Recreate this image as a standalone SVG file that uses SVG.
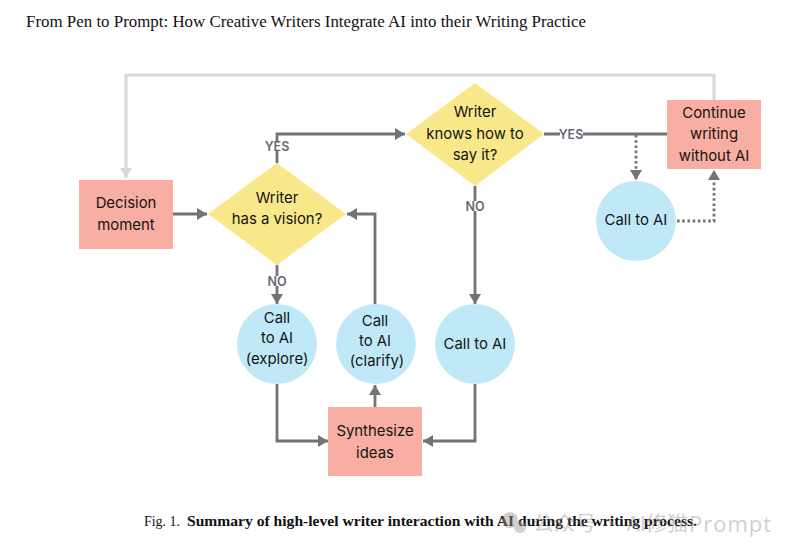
<svg xmlns="http://www.w3.org/2000/svg" width="796" height="555" viewBox="0 0 796 555">
<style>
.t{font-family:"Inter","Liberation Sans",sans-serif;font-size:14.9px;fill:#141414;text-anchor:middle}
.l{font-family:"Inter","Liberation Sans",sans-serif;font-size:12.5px;font-weight:600;fill:#666a75;text-anchor:middle}
.r{fill:#f9aea3}.d{fill:#f9e88a}.c{fill:#c0e9f8}
.e{fill:none;stroke:#737373;stroke-width:2.8}
.g{fill:none;stroke:#d9d9d9;stroke-width:3}
.o{fill:none;stroke:#737373;stroke-width:2.8;stroke-dasharray:2.6 2.6}
.cap{font-family:"Liberation Serif",serif;fill:#111}
</style>
<defs>
<marker id="a" markerUnits="userSpaceOnUse" markerWidth="11" markerHeight="12" refX="10" refY="6" orient="auto"><path d="M0 0L10 6L0 12Z" fill="#737373"/></marker>
<marker id="b" markerUnits="userSpaceOnUse" markerWidth="11" markerHeight="12" refX="10" refY="6" orient="auto"><path d="M0 0L10 6L0 12Z" fill="#d9d9d9"/></marker>
</defs>
<rect width="796" height="555" fill="#fff"/>
<text x="26" y="27" class="cap" font-size="16.3" fill="#222" textLength="560" lengthAdjust="spacingAndGlyphs">From Pen to Prompt: How Creative Writers Integrate AI into their Writing Practice</text>
<g id="connectors">
<path class="g" d="M714 100V75H126V178" marker-end="url(#b)"/>
<path class="e" d="M173 214H207" marker-end="url(#a)"/>
<path class="e" d="M277 163V134H405" marker-end="url(#a)"/>
<path class="e" d="M544 134H667"/>
<path class="e" d="M277 265V304" marker-end="url(#a)"/>
<path class="e" d="M375 304V214H347" marker-end="url(#a)"/>
<path class="e" d="M475 186V304" marker-end="url(#a)"/>
<path class="e" d="M277 384V441H328" marker-end="url(#a)"/>
<path class="e" d="M375 407V385" marker-end="url(#a)"/>
<path class="e" d="M475 384V441H423" marker-end="url(#a)"/>
<path class="o" d="M636 135V180" marker-end="url(#a)"/>
<path class="o" d="M677 221H714V170" marker-end="url(#a)"/>
</g>
<g id="decision-moment"><rect class="r" x="79" y="180" width="94" height="69"/><text class="t" x="126" y="208">Decision</text><text class="t" x="126" y="230">moment</text></g>
<g id="has-vision"><polygon class="d" points="208,214 277,163 346,214 277,265"/><text class="t" x="277" y="203">Writer</text><text class="t" x="277" y="224">has a vision?</text></g>
<g id="knows-how"><polygon class="d" points="406,134 475,83 544,134 475,186"/><text class="t" x="475" y="117">Writer</text><text class="t" x="475" y="139">knows how to</text><text class="t" x="475" y="160">say it?</text></g>
<g id="continue"><rect class="r" x="667" y="100" width="94" height="69"/><text class="t" x="714" y="118">Continue</text><text class="t" x="714" y="139">writing</text><text class="t" x="714" y="161">without AI</text></g>
<g id="call-top"><circle class="c" cx="636" cy="221" r="40"/><text class="t" x="636" y="225">Call to AI</text></g>
<g id="call-explore"><circle class="c" cx="277" cy="344" r="40"/><text class="t" x="277" y="323">Call</text><text class="t" x="277" y="343">to AI</text><text class="t" x="277" y="364">(explore)</text></g>
<g id="call-clarify"><circle class="c" cx="376" cy="344" r="40"/><text class="t" x="375" y="326">Call</text><text class="t" x="375" y="346">to AI</text><text class="t" x="377" y="366">(clarify)</text></g>
<g id="call-mid"><circle class="c" cx="475" cy="344" r="40"/><text class="t" x="475" y="349">Call to AI</text></g>
<g id="synthesize"><rect class="r" x="328" y="407" width="94" height="69"/><text class="t" x="375" y="436">Synthesize</text><text class="t" x="375" y="458">ideas</text></g>
<g id="labels">
<rect x="265" y="141" width="24" height="10" fill="#fff"/><text class="l" x="277" y="151">YES</text>
<rect x="267" y="276" width="20" height="10" fill="#fff"/><text class="l" x="277" y="286">NO</text>
<rect x="465" y="201" width="20" height="10" fill="#fff"/><text class="l" x="475" y="211">NO</text>
<rect x="560" y="129" width="23" height="10" fill="#fff"/><text class="l" x="571" y="139">YES</text>
</g>
<text class="cap" x="144" y="526" font-size="14" textLength="36" lengthAdjust="spacingAndGlyphs">Fig. 1.</text>
<text class="cap" x="187" y="526" font-size="14.2" font-weight="700" textLength="510" lengthAdjust="spacingAndGlyphs">Summary of high-level writer interaction with AI during the writing process.</text>
<g id="watermark" opacity=".45" fill="#999">
<circle cx="510" cy="520" r="8"/><circle cx="520" cy="527" r="6"/>
<text x="533" y="531" font-family="Noto Sans CJK SC,sans-serif" font-size="20" textLength="155" lengthAdjust="spacingAndGlyphs">公众号 · AI修猫</text>
<text x="689" y="532" font-family="Open Sans,sans-serif" font-size="22" letter-spacing="1">Prompt</text>
</g>
</svg>
